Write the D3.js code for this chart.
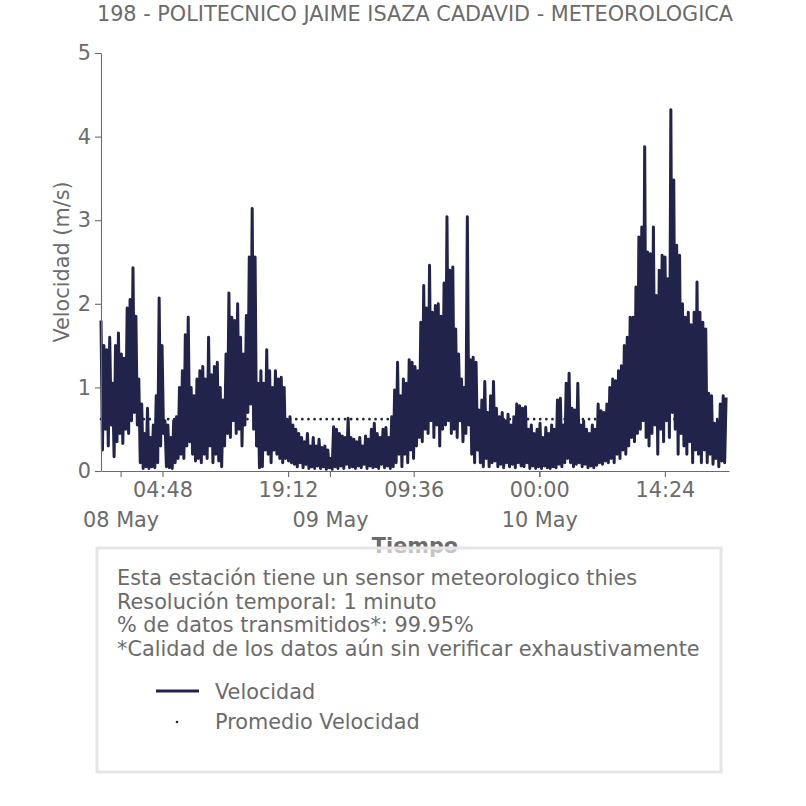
<!DOCTYPE html>
<html>
<head>
<meta charset="utf-8">
<script src="https://cdn.jsdelivr.net/npm/d3@7"></script>
<style>
  html, body { margin: 0; padding: 0; background: #ffffff; }
  svg { display: block; font-family: "DejaVu Sans", sans-serif; }
</style>
</head>
<body>
<svg id="chart" width="806" height="806"></svg>
<script>
// ---------------- DATA ----------------
const titleText = "198 - POLITECNICO JAIME ISAZA CADAVID - METEOROLOGICA";
const seriesStart = "2023-05-07 21:45";
const seriesEnd = "2023-05-10 21:45";
const stepMinutes = 10;
// Velocidad (m/s), every 10 minutes
const velocidad = [
  1.8,0.25, 1.5,0.5, 1.45,0.3, 1.6,0.55, 1.05,0.17, 1.5,0.35, 1.65,0.45, 1.4,0.33, 1.35,0.5, 1.95,0.45,
  2.05,0.6, 2.43,0.7, 1.85,0.55, 1.1,0.1, 0.8,0.03, 0.45,0.05, 0.75,0.03, 0.4,0.05, 0.55,0.04, 0.9,0.1,
  2.07,0.3, 1.5,0.45, 0.6,0.05, 0.55,0.04, 0.4,0.03, 0.6,0.1, 0.65,0.15, 1.0,0.2, 1.2,0.15, 1.63,0.3,
  1.84,0.35, 1.0,0.2, 0.9,0.12, 1.1,0.15, 1.2,0.1, 1.25,0.2, 1.1,0.15, 1.6,0.3, 1.15,0.1, 1.25,0.2,
  1.3,0.12, 1.0,0.05, 0.85,0.3, 1.4,0.45, 2.13,0.4, 1.84,0.6, 1.8,0.45, 2.0,0.5, 1.6,0.3, 1.4,0.55,
  1.86,0.7, 2.56,0.8, 3.14,0.5, 2.56,0.3, 1.05,0.04, 1.2,0.05, 1.05,0.25, 1.45,0.2, 1.2,0.1, 1.0,0.25,
  1.2,0.2, 1.1,0.15, 1.12,0.1, 1.0,0.15, 0.62,0.12, 0.65,0.1, 0.55,0.08, 0.5,0.05, 0.45,0.1, 0.4,0.04,
  0.35,0.08, 0.45,0.03, 0.3,0.05, 0.4,0.03, 0.3,0.06, 0.38,0.03, 0.28,0.05, 0.3,0.02, 0.25,0.04, 0.15,0.02,
  0.53,0.05, 0.5,0.03, 0.45,0.06, 0.42,0.03, 0.4,0.08, 0.63,0.04, 0.4,0.05, 0.38,0.03, 0.35,0.06, 0.4,0.04,
  0.3,0.08, 0.42,0.03, 0.38,0.06, 0.5,0.04, 0.57,0.05, 0.45,0.03, 0.4,0.08, 0.5,0.04, 0.52,0.06, 0.4,0.03,
  0.65,0.05, 0.97,0.1, 1.3,0.2, 0.9,0.05, 1.1,0.2, 1.05,0.1, 1.33,0.25, 1.3,0.15, 1.25,0.3, 1.2,0.4,
  1.78,0.35, 2.22,0.5, 1.95,0.45, 2.46,0.6, 1.9,0.4, 1.98,0.55, 2.0,0.3, 1.85,0.5, 2.25,0.55, 3.04,0.6,
  2.4,0.45, 2.44,0.5, 1.7,0.4, 1.4,0.6, 1.1,0.35, 1.0,0.45, 3.04,0.55, 1.33,0.2, 1.36,0.1, 1.3,0.25,
  0.73,0.1, 0.85,0.05, 1.07,0.15, 0.7,0.05, 0.9,0.1, 1.07,0.12, 0.75,0.05, 0.65,0.08, 0.7,0.04, 0.6,0.1,
  0.68,0.05, 0.55,0.08, 0.65,0.04, 0.8,0.1, 0.78,0.06, 0.75,0.05, 0.77,0.1, 0.5,0.03, 0.55,0.06, 0.45,0.03,
  0.5,0.05, 0.57,0.03, 0.4,0.06, 0.52,0.04, 0.45,0.03, 0.55,0.05, 0.5,0.04, 0.85,0.08, 0.87,0.05, 0.55,0.1,
  1.05,0.15, 1.17,0.1, 0.75,0.05, 0.73,0.08, 1.05,0.1, 0.55,0.05, 0.6,0.08, 0.5,0.04, 0.45,0.06, 0.55,0.04,
  0.5,0.07, 0.8,0.1, 0.72,0.08, 0.7,0.12, 0.8,0.1, 1.0,0.15, 1.1,0.1, 1.08,0.2, 1.2,0.15, 1.26,0.25,
  1.5,0.2, 1.6,0.3, 1.84,0.4, 1.84,0.35, 2.2,0.45, 2.8,0.5, 2.92,0.6, 3.88,0.4, 2.62,0.3, 2.6,0.45,
  2.92,0.55, 2.1,0.2, 2.4,0.5, 2.58,0.35, 2.56,0.6, 2.3,0.4, 4.32,0.7, 3.48,0.5, 2.7,0.2, 2.58,0.45,
  2.0,0.3, 1.84,0.2, 1.9,0.35, 1.75,0.1, 1.9,0.25, 2.26,0.2, 1.9,0.1, 1.78,0.25, 1.7,0.1, 0.93,0.2,
  0.9,0.08, 0.57,0.15, 0.6,0.05, 0.8,0.12, 0.9,0.1, 0.88
];
const promedioVelocidad = 0.62;
const yTicks = [0, 1, 2, 3, 4, 5];
const xTickLabels = ["2023-05-08 04:48", "2023-05-08 19:12", "2023-05-09 09:36", "2023-05-10 00:00", "2023-05-10 14:24"];
const dayTickLabels = ["2023-05-08 00:00", "2023-05-09 00:00", "2023-05-10 00:00"];
const infoLines = [
  "Esta estación tiene un sensor meteorologico thies",
  "Resolución temporal: 1 minuto",
  "% de datos transmitidos*: 99.95%",
  "*Calidad de los datos aún sin verificar exhaustivamente"
];
const legendLabels = ["Velocidad", "Promedio Velocidad"];

// ---------------- DRAW ----------------
const parse = d3.timeParse("%Y-%m-%d %H:%M");
const t0 = parse(seriesStart), t1 = parse(seriesEnd);
const data = velocidad.map((v, i) => ({ t: new Date(t0.getTime() + i * stepMinutes * 60000), v }));

const lineColor = "#22234a";
const textColor = "#6b6b6b";
const axisColor = "#6b6b6b";
const fs = 20.8;

const svg = d3.select("#chart");
const x = d3.scaleTime().domain([t0, t1]).range([101, 729]);
const y = d3.scaleLinear().domain([0, 5]).range([471, 53]);

// title
svg.append("text").attr("x", 415).attr("y", 21).attr("text-anchor", "middle")
  .attr("font-size", fs).attr("fill", textColor).text(titleText);

// mean line (dotted)
svg.append("line")
  .attr("x1", x.range()[0]).attr("x2", x.range()[1])
  .attr("y1", y(promedioVelocidad)).attr("y2", y(promedioVelocidad))
  .attr("stroke", lineColor).attr("stroke-width", 2.6)
  .attr("stroke-linecap", "round").attr("stroke-dasharray", "0.1,6");

// series
svg.append("path").datum(data)
  .attr("fill", "none").attr("stroke", lineColor).attr("stroke-width", 3)
  .attr("stroke-linejoin", "round")
  .attr("d", d3.line().x(d => x(d.t)).y(d => y(d.v)));

// axes
function styleAxis(g) {
  g.selectAll("path.domain").attr("stroke", axisColor).attr("stroke-width", 1.1);
  g.selectAll(".tick line").attr("stroke", axisColor).attr("stroke-width", 1.1);
  g.selectAll(".tick text").attr("fill", textColor).attr("font-size", fs)
    .attr("font-family", "DejaVu Sans, sans-serif");
}
const yAxis = svg.append("g").attr("transform", "translate(101,0)")
  .call(d3.axisLeft(y).tickValues(yTicks).tickFormat(d3.format("d")).tickSize(6).tickPadding(4).tickSizeOuter(0));
styleAxis(yAxis);

const xAxis = svg.append("g").attr("transform", "translate(0,471)")
  .call(d3.axisBottom(x).tickValues(xTickLabels.map(parse)).tickFormat(d3.timeFormat("%H:%M"))
    .tickSize(6).tickPadding(5).tickSizeOuter(0));
styleAxis(xAxis);

const dayAxis = svg.append("g").attr("transform", "translate(0,471)")
  .call(d3.axisBottom(x).tickValues(dayTickLabels.map(parse)).tickFormat(d3.timeFormat("%d %b"))
    .tickSize(6).tickPadding(35).tickSizeOuter(0));
dayAxis.select("path.domain").remove();
styleAxis(dayAxis);

// axis titles
svg.append("text").attr("transform", "translate(69,262) rotate(-90)").attr("text-anchor", "middle")
  .attr("font-size", fs).attr("fill", textColor).text("Velocidad (m/s)");
svg.append("text").attr("x", 415).attr("y", 553).attr("text-anchor", "middle")
  .attr("font-size", fs).attr("font-weight", "bold").attr("fill", textColor).text("Tiempo");

// info / legend box
svg.append("rect").attr("x", 97).attr("y", 548).attr("width", 624).attr("height", 224)
  .attr("fill", "#ffffff").attr("fill-opacity", 0.6)
  .attr("stroke", "#e6e6e6").attr("stroke-width", 3);
infoLines.forEach((s, i) => {
  svg.append("text").attr("x", 117).attr("y", 585 + i * 23.5)
    .attr("font-size", fs).attr("fill", textColor).text(s);
});
svg.append("line").attr("x1", 156).attr("x2", 199).attr("y1", 691).attr("y2", 691)
  .attr("stroke", lineColor).attr("stroke-width", 3);
svg.append("circle").attr("cx", 177).attr("cy", 722).attr("r", 1.3).attr("fill", lineColor);
legendLabels.forEach((s, i) => {
  svg.append("text").attr("x", 215).attr("y", 699 + i * 30)
    .attr("font-size", fs).attr("fill", textColor).text(s);
});
</script>
</body>
</html>
